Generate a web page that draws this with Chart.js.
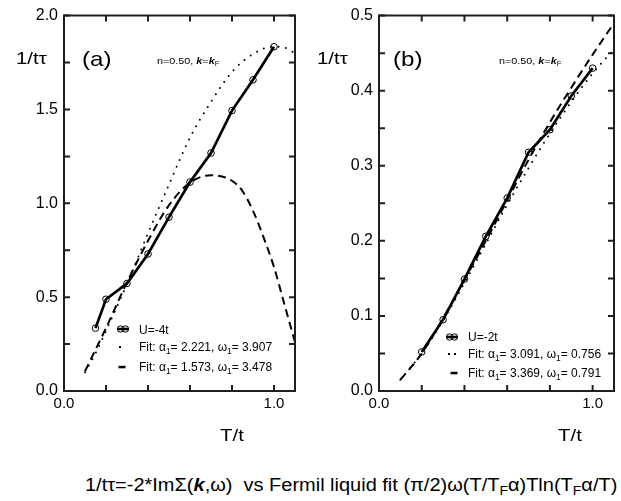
<!DOCTYPE html>
<html>
<head>
<meta charset="utf-8">
<script src="https://cdn.jsdelivr.net/npm/chart.js@4/dist/chart.umd.min.js"></script>
<style>
  body { margin: 0; background: #fff; }
  #wrap { position: relative; width: 621px; height: 501px; overflow: hidden;
          font-family: "Liberation Sans", Arial, sans-serif; color: #000; }
  canvas { position: absolute; top: 0; }
  .t { position: absolute; white-space: nowrap; line-height: 1; transform-origin: 0 50%; }
  .t sub { font-size: 70%; vertical-align: -0.35em; line-height: 0; }
  .t i { font-weight: bold; }
</style>
</head>
<body>
<div id="wrap">
  <canvas id="chartA" width="310" height="420" style="left:0"></canvas>
  <canvas id="chartB" width="311" height="420" style="left:310px"></canvas>
</div>
<script>
// panel (a), U=-4t
const tA = [0.15, 0.2, 0.3, 0.4, 0.5, 0.6, 0.7, 0.8, 0.9, 1.0];
const rateA = [0.335, 0.489, 0.573, 0.730, 0.926, 1.113, 1.268, 1.494, 1.658, 1.834];
const dotT_A = [0.1, 0.15, 0.2, 0.3, 0.4, 0.5, 0.6, 0.7, 0.8, 0.9, 1.0, 1.05, 1.1];
const dotFitA = [0.10, 0.20, 0.32, 0.57, 0.84, 1.10, 1.35, 1.54, 1.70, 1.795, 1.835, 1.83, 1.80];
const dashT_A = [0.1, 0.15, 0.2, 0.3, 0.4, 0.5, 0.6, 0.7, 0.8, 0.85, 0.9, 0.95, 1.0, 1.05, 1.1];
const dashFitA = [0.105, 0.22, 0.335, 0.58, 0.80, 0.99, 1.11, 1.15, 1.12, 1.065, 0.96, 0.82, 0.66, 0.46, 0.26];

// panel (b), U=-2t
const tB = [0.2, 0.3, 0.4, 0.5, 0.6, 0.7, 0.8, 0.9, 1.0];
const rateB = [0.052, 0.095, 0.149, 0.206, 0.257, 0.318, 0.348, 0.393, 0.430];
const fitT_B = [0.1, 0.2, 0.3, 0.4, 0.5, 0.6, 0.7, 0.8, 0.9, 1.0, 1.1];
const dotFitB = [0.015, 0.05, 0.094, 0.144, 0.196, 0.248, 0.297, 0.343, 0.385, 0.423, 0.455];
const dashFitB = [0.015, 0.05, 0.097, 0.148, 0.200, 0.254, 0.308, 0.358, 0.404, 0.448, 0.490];

const xTickLabels = ['0.0', '1.0'];

const pts = (xs, ys) => xs.map((x, i) => ({ x: x, y: ys[i] }));
const wrap = document.getElementById('wrap');
const frameColor = '#1e1e1e';

// box round the plot, inward ticks on all sides, legend samples
const frame = {
    id: 'frame',
    afterDraw(chart, args, opts) {
        const ctx = chart.ctx;
        const a = chart.chartArea;
        const xs = chart.scales.x, ys = chart.scales.y;
        ctx.save();
        ctx.setLineDash([]);
        ctx.lineCap = 'butt';
        ctx.strokeStyle = frameColor;
        ctx.fillStyle = frameColor;
        ctx.lineWidth = 2;
        ctx.beginPath();
        ctx.rect(a.left, a.top, a.right - a.left, a.bottom - a.top);
        ctx.stroke();
        ctx.beginPath();
        xs.ticks.forEach(t => {
            const px = xs.getPixelForValue(t.value);
            ctx.moveTo(px, a.bottom); ctx.lineTo(px, a.bottom - 6);
            ctx.moveTo(px, a.top); ctx.lineTo(px, a.top + 6);
        });
        ys.ticks.forEach(t => {
            const py = ys.getPixelForValue(t.value);
            ctx.moveTo(a.left, py); ctx.lineTo(a.left + 6, py);
            ctx.moveTo(a.right, py); ctx.lineTo(a.right - 6, py);
        });
        ctx.stroke();

        // legend samples
        const s = opts.sym;
        ctx.fillStyle = '#000';
        ctx.strokeStyle = '#000';
        ctx.fillRect(s.x - 5, s.ys[0] - 1.3, 10, 2.6);
        ctx.lineWidth = 1;
        [-2.5, 2.5].forEach(d => {
            ctx.beginPath();
            ctx.arc(s.x + d, s.ys[0], 3.2, 0, Math.PI * 2);
            ctx.stroke();
        });
        s.dots.forEach(d => ctx.fillRect(s.x + d - 1, s.ys[1] - 1, 2, 2));
        ctx.fillRect(s.dashX - 3.5, s.ys[2] - 1.2, 7, 2.5);
        ctx.restore();
    }
};

function makeChart(id, cfg) {
    return new Chart(document.getElementById(id).getContext('2d'), {
        type: 'line',
        data: {
            datasets: [
                {
                    data: cfg.data,
                    borderColor: '#000',
                    borderWidth: 2.7,
                    pointRadius: 3.3,
                    pointBorderWidth: 1,
                    pointBorderColor: '#000',
                    pointBackgroundColor: 'rgba(0,0,0,0)',
                    tension: 0,
                },
                {
                    data: cfg.dot,
                    borderColor: '#000',
                    borderWidth: 2,
                    borderDash: [0, 7.5],
                    borderCapStyle: 'round',
                    pointRadius: 0,
                    cubicInterpolationMode: 'monotone',
                },
                {
                    data: cfg.dash,
                    borderColor: '#000',
                    borderWidth: 2,
                    borderDash: [8, 5],
                    pointRadius: 0,
                    cubicInterpolationMode: 'monotone',
                },
            ]
        },
        options: {
            responsive: false,
            animation: false,
            layout: { padding: { left: 0, top: 13, right: cfg.padRight, bottom: 0 } },
            plugins: {
                legend: { display: false },
                tooltip: { enabled: false },
                frame: { sym: cfg.sym },
            },
            scales: {
                x: {
                    type: 'linear',
                    min: 0, max: 1.1,
                    grid: { display: false, drawTicks: false },
                    border: { display: false },
                    afterFit: s => { s.height = 29; },
                    ticks: {
                        stepSize: 0.2,
                        includeBounds: false,
                        autoSkip: false,
                        maxRotation: 0,
                        padding: 4,
                        color: '#000',
                        font: { family: 'Liberation Sans, Arial, sans-serif', size: 15 },
                        callback: v => Math.abs(v) < 1e-6 ? xTickLabels[0] : (Math.abs(v - 1) < 1e-6 ? xTickLabels[1] : ''),
                    },
                },
                y: {
                    min: 0, max: cfg.yMax,
                    grid: { display: false, drawTicks: false },
                    border: { display: false },
                    afterFit: s => { s.width = cfg.yWidth; },
                    ticks: {
                        stepSize: cfg.yMinor,
                        autoSkip: false,
                        padding: 6,
                        color: '#000',
                        font: { family: 'Liberation Sans, Arial, sans-serif', size: 16 },
                        callback: v => {
                            const k = v / cfg.yMajor;
                            return Math.abs(k - Math.round(k)) < 1e-6 ? v.toFixed(1) : '';
                        },
                    },
                },
            },
        },
        plugins: [frame],
    });
}

makeChart('chartA', {
    data: pts(tA, rateA),
    dot: pts(dotT_A, dotFitA),
    dash: pts(dashT_A, dashFitA),
    yMax: 2.0, yMajor: 0.5, yMinor: 0.25,
    yWidth: 64, padRight: 15,
    sym: { x: 123, ys: [329, 347, 367], dots: [-3], dashX: 122 },
});

makeChart('chartB', {
    data: pts(tB, rateB),
    dot: pts(fitT_B, dotFitB),
    dash: pts(fitT_B, dashFitB),
    yMax: 0.5, yMajor: 0.1, yMinor: 0.05,
    yWidth: 69, padRight: 7,
    sym: { x: 142, ys: [337, 354, 373], dots: [-3, 3], dashX: 144 },
});

// text: [html, left, centre y, font size, horizontal stretch]
const labels = [
    ['1/tτ', 16, 58, 17, 1.2],
    ['(a)', 82, 58, 21, 1.15],
    ['n=0.50, <i>k</i>=<i>k</i><sub>F</sub>', 157, 61, 9, 1.2],
    ['U=-4t', 139, 330, 12, 1.0],
    ['Fit: α<sub>1</sub>= 2.221, ω<sub>1</sub>= 3.907', 139, 347, 12, 1.0],
    ['Fit: α<sub>1</sub>= 1.573, ω<sub>1</sub>= 3.478', 139, 366.5, 12, 1.0],
    ['T/t', 220, 435, 17, 1.2],
    ['1/tτ', 317, 58, 17, 1.2],
    ['(b)', 393, 58, 21, 1.15],
    ['n=0.50, <i>k</i>=<i>k</i><sub>F</sub>', 499, 61, 9, 1.2],
    ['U=-2t', 468, 337, 12, 1.0],
    ['Fit: α<sub>1</sub>= 3.091, ω<sub>1</sub>= 0.756', 468, 354, 12, 1.0],
    ['Fit: α<sub>1</sub>= 3.369, ω<sub>1</sub>= 0.791', 468, 373, 12, 1.0],
    ['T/t', 558, 435, 17, 1.2],
    ['1/tτ=-2*ImΣ(<i>k</i>,ω)&nbsp; vs Fermil liquid fit (π/2)ω(T/T<sub>F</sub>α)Tln(T<sub>F</sub>α/T)', 85, 485, 18, 1.11],
];

labels.forEach(([html, left, cy, size, sx]) => {
    const d = document.createElement('div');
    d.className = 't';
    d.innerHTML = html;
    d.style.left = left + 'px';
    d.style.top = (cy - size * 0.5) + 'px';
    d.style.fontSize = size + 'px';
    d.style.transform = 'scaleX(' + sx + ')';
    wrap.appendChild(d);
});
</script>
</body>
</html>
